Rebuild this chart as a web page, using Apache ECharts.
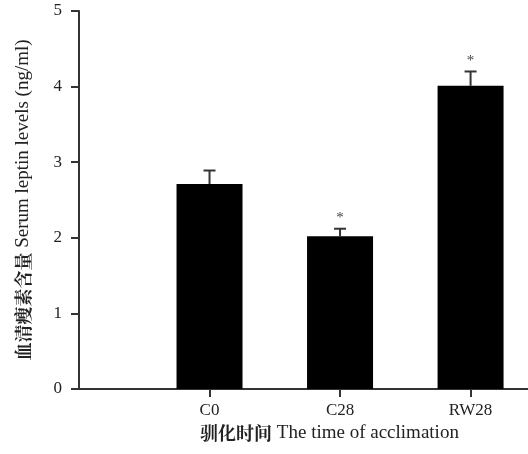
<!DOCTYPE html>
<html>
<head>
<meta charset="utf-8">
<script src="https://cdn.jsdelivr.net/npm/echarts@6/dist/echarts.min.js"></script>
<style>
  html, body { margin: 0; padding: 0; background: #fff; }
  #main { width: 528px; height: 454px; }
</style>
</head>
<body>
<div id="main"></div>
<script>
// 数据
var categories = ["C0", "C28", "RW28"];
var means = [2.71, 2.02, 4.01];
var errors = [0.18, 0.10, 0.19];
var sig = ["", "*", "*"];
var yTicks = [0, 1, 2, 3, 4, 5];

var FONT = "'Liberation Serif', 'Noto Sans CJK SC', serif";
var CN_FONT = "'Noto Serif CJK SC', 'Noto Sans CJK SC', serif";
var AXIS_COLOR = "#333";

// 柱子放在 1,2,3 的位置上
var positions = categories.map(function (c, i) { return i + 1; });
var barData = means.map(function (v, i) { return [positions[i], v]; });
var errData = means.map(function (v, i) { return [positions[i], v, errors[i], sig[i]]; });

var chart = echarts.init(document.getElementById("main"));

var option = {
  animation: false,
  backgroundColor: "#fff",
  grid: { left: 79, right: 0, top: 11, bottom: 65 },
  xAxis: {
    type: "value",
    min: 0,
    max: 3.44,
    name: "{cn|驯化时间} The time of acclimation",
    nameLocation: "middle",
    nameGap: 33,
    nameTextStyle: {
      fontFamily: FONT, fontSize: 19, color: "#222", padding: [0, 0, 0, 52],
      rich: { cn: { fontFamily: CN_FONT, fontSize: 18, fontWeight: "bold", color: "#222" } }
    },
    splitLine: { show: false },
    axisLine: { show: true, lineStyle: { color: AXIS_COLOR, width: 2 } },
    axisTick: { show: true, customValues: positions, length: 8, lineStyle: { color: AXIS_COLOR, width: 2 } },
    axisLabel: {
      customValues: positions,
      margin: 13,
      fontFamily: FONT,
      fontSize: 17,
      color: "#222",
      formatter: function (v) { return categories[Math.round(v) - 1] || ""; }
    }
  },
  yAxis: {
    type: "value",
    min: 0,
    max: 5,
    interval: 1,
    name: "{cn|血清瘦素含量} Serum leptin levels (ng/ml)",
    nameLocation: "middle",
    nameRotate: 90,
    nameGap: 46,
    nameTextStyle: {
      fontFamily: FONT, fontSize: 19, color: "#222",
      rich: { cn: { fontFamily: CN_FONT, fontSize: 18, fontWeight: "bold", color: "#222" } }
    },
    splitLine: { show: false },
    axisLine: { show: true, lineStyle: { color: AXIS_COLOR, width: 2 } },
    axisTick: { show: true, length: 8, lineStyle: { color: AXIS_COLOR, width: 2 } },
    axisLabel: {
      margin: 17,
      fontFamily: FONT,
      fontSize: 17,
      color: "#222",
      formatter: function (v) { return yTicks.indexOf(v) >= 0 ? String(v) : ""; }
    }
  },
  series: [
    {
      type: "bar",
      data: barData,
      barWidth: 66,
      itemStyle: { color: "#000" },
      z: 2
    },
    {
      type: "custom",
      data: errData,
      z: 3,
      renderItem: function (params, api) {
        var x = api.value(0);
        var m = api.value(1);
        var e = api.value(2);
        var s = api.value(3);
        var base = api.coord([x, m]);
        var top = api.coord([x, m + e]);
        var half = 6;
        var style = { stroke: AXIS_COLOR, lineWidth: 2 };
        var children = [
          { type: "line", shape: { x1: top[0], y1: base[1], x2: top[0], y2: top[1] }, style: style },
          { type: "line", shape: { x1: top[0] - half, y1: top[1], x2: top[0] + half, y2: top[1] }, style: style }
        ];
        if (s) {
          children.push({
            type: "text",
            style: {
              text: s,
              x: top[0],
              y: top[1] - 3,
              align: "center",
              verticalAlign: "bottom",
              fontFamily: FONT,
              fontSize: 15,
              fill: "#444"
            }
          });
        }
        return { type: "group", children: children };
      }
    }
  ]
};

chart.setOption(option);
</script>
</body>
</html>
